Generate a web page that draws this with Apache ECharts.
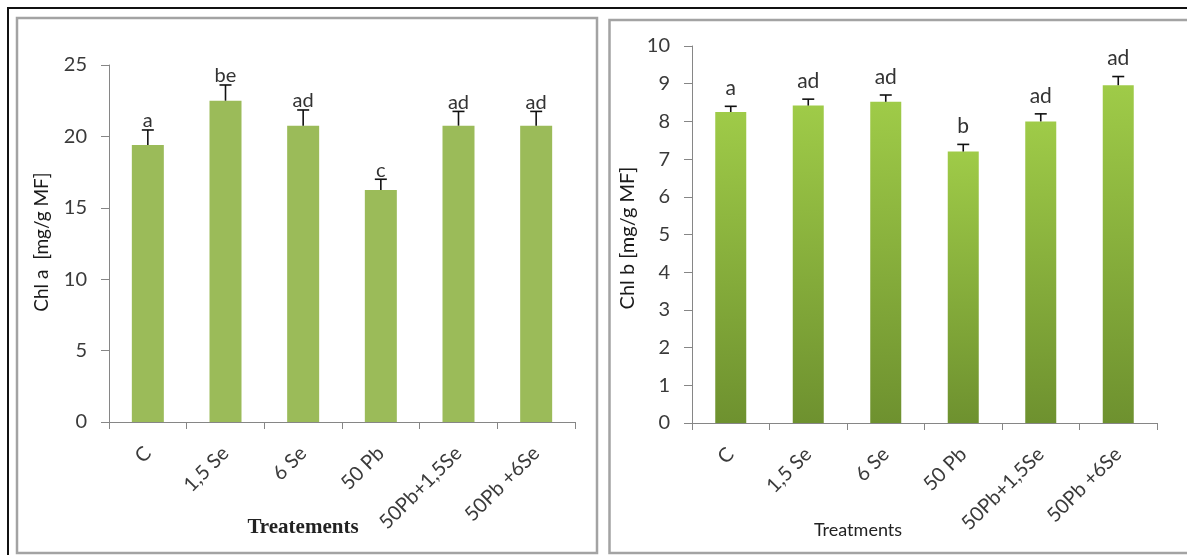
<!DOCTYPE html>
<html>
<head>
<meta charset="utf-8">
<script src="https://cdn.jsdelivr.net/npm/echarts@6/dist/echarts.min.js"></script>
<style>
html,body{margin:0;padding:0;background:#fff;}
#chart{width:1187px;height:555px;}
</style>
</head>
<body>
<div id="chart"></div>
<script>
const categories = ['C', '1,5 Se', '6 Se', '50 Pb', '50Pb+1,5Se', '50Pb +6Se'];
const chlA = [19.4, 22.5, 20.75, 16.25, 20.75, 20.75];
const chlAErr = [1.05, 1.1, 1.1, 0.75, 1.0, 1.0];
const chlALetters = ['a', 'be', 'ad', 'c', 'ad', 'ad'];
const chlB = [8.25, 8.42, 8.52, 7.2, 8.0, 8.96];
const chlBErr = [0.15, 0.17, 0.18, 0.19, 0.2, 0.23];
const chlBLetters = ['a', 'ad', 'ad', 'b', 'ad', 'ad'];
const yTicksA = {min: 0, max: 25, interval: 5};
const yTicksB = {min: 0, max: 10, interval: 1};

const SANS = 'Lato';
const axisGray = '#868686';

function yAxisCfg(idx, t) {
  return {
    type: 'value', gridIndex: idx, min: t.min, max: t.max, interval: t.interval,
    axisLine: {show: true, lineStyle: {color: axisGray, width: 1}},
    axisTick: {show: true, length: 8, lineStyle: {color: axisGray}},
    splitLine: {show: false},
    axisLabel: {fontFamily: SANS, fontSize: 20, color: '#3a3a3a', margin: 22}
  };
}
function xAxisCfg(idx) {
  return {
    type: 'category', gridIndex: idx, data: categories, boundaryGap: true,
    axisLine: {show: true, lineStyle: {color: axisGray, width: 1}},
    axisTick: {show: true, length: 7, lineStyle: {color: axisGray}},
    axisLabel: {rotate: 45, fontFamily: SANS, fontSize: 20, color: '#3a3a3a', margin: 28, interval: 0}
  };
}
function errSeries(idx, vals, errs, letters, capHalf, textGap, fontSize) {
  return {
    type: 'custom', xAxisIndex: idx, yAxisIndex: idx, z: 5,
    data: vals.map((v, i) => [i, v, v + errs[i]]),
    encode: {x: 0, y: [1, 2]},
    renderItem: function (params, api) {
      const i = api.value(0);
      const p1 = api.coord([i, api.value(1)]);
      const p2 = api.coord([i, api.value(2)]);
      return {
        type: 'group',
        children: [
          {type: 'line', shape: {x1: p1[0], y1: p1[1], x2: p2[0], y2: p2[1]}, style: {stroke: '#111', lineWidth: 1.6}},
          {type: 'line', shape: {x1: p2[0] - capHalf, y1: p2[1], x2: p2[0] + capHalf, y2: p2[1]}, style: {stroke: '#111', lineWidth: 1.6}},
          {type: 'text', x: p2[0], y: p2[1] - textGap,
           style: {text: letters[params.dataIndex], fill: '#333', font: fontSize + 'px ' + SANS, align: 'center', verticalAlign: 'middle'}}
        ]
      };
    }
  };
}

const chart = echarts.init(document.getElementById('chart'), null, {renderer: 'canvas'});
chart.setOption({
  backgroundColor: '#fff',
  animation: false,
  grid: [
    {left: 109, top: 65, width: 466, bottom: 133, containLabel: false},
    {left: 692, top: 46, width: 465, bottom: 132, containLabel: false}
  ],
  xAxis: [xAxisCfg(0), xAxisCfg(1)],
  yAxis: [yAxisCfg(0, yTicksA), yAxisCfg(1, yTicksB)],
  series: [
    {type: 'bar', xAxisIndex: 0, yAxisIndex: 0, data: chlA, barWidth: 32,
     itemStyle: {color: '#9bbb59'}},
    errSeries(0, chlA, chlAErr, chlALetters, 6, 9, 20),
    {type: 'bar', xAxisIndex: 1, yAxisIndex: 1, data: chlB, barWidth: 31,
     itemStyle: {color: new echarts.graphic.LinearGradient(0, 0, 0, 1, [
       {offset: 0, color: '#9fcb48'}, {offset: 1, color: '#6e912f'}])}},
    errSeries(1, chlB, chlBErr, chlBLetters, 6, 18, 21)
  ],
  graphic: [
    {type: 'rect', z: 0, shape: {x: 8, y: 8, width: 1300, height: 700}, style: {fill: 'none', stroke: '#111', lineWidth: 2}},
    {type: 'rect', z: 0, shape: {x: 17, y: 18, width: 580, height: 535}, style: {fill: 'none', stroke: '#a3a3a3', lineWidth: 2.5}},
    {type: 'rect', z: 0, shape: {x: 609.5, y: 20, width: 700, height: 533}, style: {fill: 'none', stroke: '#a3a3a3', lineWidth: 2.5}},
    {type: 'text', x: 42, y: 242, rotation: Math.PI / 2,
     style: {text: 'Chl a  [mg/g MF]', font: '19px ' + SANS, fill: '#1a1a1a', align: 'center', verticalAlign: 'middle'}},
    {type: 'text', x: 628, y: 238, rotation: Math.PI / 2,
     style: {text: 'Chl b [mg/g MF]', font: '20px ' + SANS, fill: '#1a1a1a', align: 'center', verticalAlign: 'middle'}},
    {type: 'text', x: 303, y: 528,
     style: {text: 'Treatements', font: 'bold 21px "Liberation Serif"', fill: '#222', align: 'center', verticalAlign: 'middle'}},
    {type: 'text', x: 858, y: 530,
     style: {text: 'Treatments', font: '18px ' + SANS, fill: '#222', align: 'center', verticalAlign: 'middle'}}
  ]
});
</script>
</body>
</html>
